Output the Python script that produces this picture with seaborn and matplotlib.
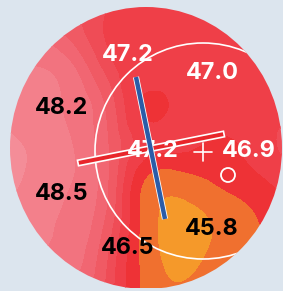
import numpy as np
import matplotlib
matplotlib.use("Agg")
import matplotlib.pyplot as plt
import matplotlib.tri as mtri
import matplotlib.patheffects as pe
from matplotlib.patches import Ellipse, Circle, Polygon
import seaborn as sns

# ---- data (pixel space of the map) ----
grid_x = [0, 36, 72, 108, 144, 180, 216, 252, 288]
grid_y = [0, 36, 72, 108, 144, 180, 216, 252, 288]
power = [
    [48.0, 47.9, 47.6, 47.2, 47.0, 47.0, 47.0, 47.0, 47.0],
    [48.3, 48.0, 47.6, 47.1, 47.0, 47.0, 47.0, 47.0, 47.0],
    [48.55, 48.45, 48.1, 47.3, 47.0, 47.0, 47.0, 47.0, 47.05],
    [48.7, 48.55, 48.3, 47.6, 46.8, 46.95, 47.0, 47.0, 47.1],
    [49.0, 48.7, 48.4, 47.7, 47.0, 46.95, 46.8, 46.95, 47.25],
    [49.1, 48.65, 48.4, 47.7, 46.5, 46.3, 46.55, 46.75, 47.0],
    [48.75, 48.5, 48.3, 47.6, 46.35, 45.8, 46.1, 46.45, 46.85],
    [48.5, 48.4, 48.2, 47.4, 46.35, 45.8, 46.1, 46.4, 46.8],
    [48.3, 48.2, 48.0, 47.3, 46.4, 46.05, 46.3, 46.45, 46.8],
]
levels = [44.0, 46.0, 46.5, 46.85, 47.15, 47.4, 47.7, 48.0, 48.4, 48.8, 50.0]
level_colors = ['#f5992a', '#f0702f', '#ee3236', '#ef3f48', '#ef4c56',
                '#f05a64', '#f16672', '#f2737f', '#f3808b', '#f48d98']

label_text = ['47.2', '47.0', '48.2', '47.2', '46.9', '48.5', '45.8', '46.5']
label_x = [128, 212, 62, 153, 249, 62, 212, 128]
label_y = [55, 73, 108, 151, 151, 194, 229, 248]
label_color = ['white', 'white', 'black', 'white', 'white', 'black', 'black', 'black']

disk_center = (146, 148)
disk_size = (272, 282)
zone_center = (203, 151)
zone_radius = 108
pupil_center = (228, 175)
pupil_radius = 7
steep_axis_x = [136, 165]
steep_axis_y = [77, 219]
flat_axis_x = [78, 224]
flat_axis_y = [163, 134]

# ---- figure ----
sns.set_theme(style="white")
palette = sns.color_palette(level_colors)

fig = plt.figure(figsize=(2.83, 2.91), dpi=100)
fig.patch.set_facecolor('#dce5ee')
ax = fig.add_axes([0, 0, 1, 1])
ax.set_facecolor('#dce5ee')
ax.set_xlim(0, 283)
ax.set_ylim(291, 0)
ax.axis('off')

disk = Ellipse(disk_center, disk_size[0], disk_size[1], facecolor='none',
               edgecolor='none', transform=ax.transData)
ax.add_patch(disk)

gx, gy = np.meshgrid(np.array(grid_x, float), np.array(grid_y, float))
tri = mtri.Triangulation(gx.ravel(), gy.ravel())
refiner = mtri.UniformTriRefiner(tri)
tri_f, z_f = refiner.refine_field(np.array(power).ravel(), subdiv=4)
cs = ax.tricontourf(tri_f, z_f, levels=levels, colors=palette, zorder=1)
cs.set_clip_path(disk)

zone = Circle(zone_center, zone_radius, fill=False, ec='white', lw=1.2, zorder=3)
ax.add_patch(zone)
zone.set_clip_path(disk)

pupil = Circle(pupil_center, pupil_radius, fill=False, ec='white', lw=1.3, zorder=3)
ax.add_patch(pupil)

# centre cross
cx, cy = zone_center[0], zone_center[1] + 1
ax.plot([cx - 9, cx + 9], [cy, cy], color='white', lw=1.2, zorder=3)
ax.plot([cx, cx], [cy - 9, cy + 9], color='white', lw=1.2, zorder=3)

# flat axis bar
p1 = np.array([flat_axis_x[0], flat_axis_y[0]], float)
p2 = np.array([flat_axis_x[1], flat_axis_y[1]], float)
d = (p2 - p1) / np.linalg.norm(p2 - p1)
n = np.array([-d[1], d[0]]) * 2.8
bar = Polygon([p1 + n, p2 + n, p2 - n, p1 - n], closed=True,
              facecolor='#e8262b', edgecolor='white', lw=1.2, zorder=4)
ax.add_patch(bar)

for t, x, y, c in zip(label_text, label_x, label_y, label_color):
    ax.text(x, y, t, color=c, fontsize=16.8, fontweight='bold',
            family=['Inter', 'DejaVu Sans'], ha='center', va='center', zorder=5)

ax.plot(steep_axis_x, steep_axis_y, color='#2b5ca8', lw=3.2,
        solid_capstyle='butt', zorder=6,
        path_effects=[pe.Stroke(linewidth=4.4, foreground='white'), pe.Normal()])

fig.savefig('out.png', dpi=100, facecolor=fig.get_facecolor())
